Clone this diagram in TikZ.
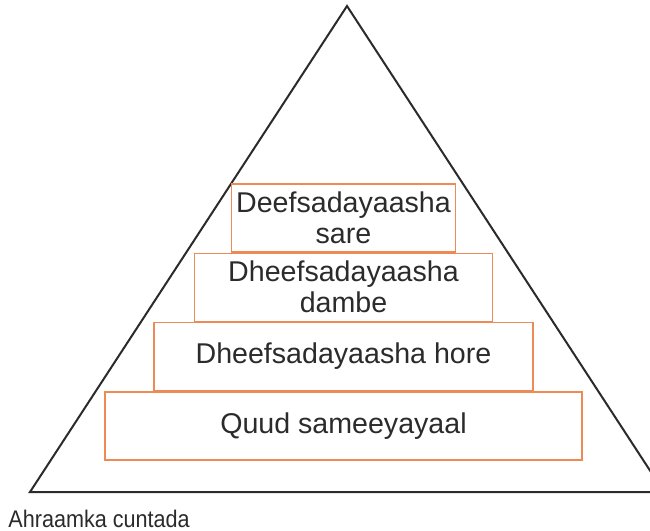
\documentclass[tikz,border=0pt]{standalone}
\usepackage{fontspec}
\setmainfont{Liberation Sans}
\newfontfamily\narrowfont[FakeStretch=0.9]{Liberation Sans}
\usepackage{xcolor}
\usepackage{tikz}
\usetikzlibrary{positioning}
\definecolor{tierline}{HTML}{EE8A55}
\definecolor{ink}{HTML}{2B2B2B}
\tikzset{
  tier/.style={rectangle,draw=tierline,line width=0.7pt,fill=white,
    align=center,inner sep=2pt,font=\fontsize{14.3}{15.5}\selectfont,
    text=ink,minimum height=34pt},
  pyr/.style={draw=ink,line width=1pt,line join=miter},
}

\begin{document}
\begin{tikzpicture}[x=0.5pt,y=-0.5pt,node distance=0pt]
  \clip (0,0) rectangle (650,531);
  \fill[white] (0,0) rectangle (650,531);
  % pyramid outline
  \coordinate (top) at (347,6);
  \coordinate (bl) at (30,492);
  \coordinate (br) at (664,492);
  \draw[pyr] (top) -- (bl) -- (br) -- cycle;
  % tiers, bottom up
  \node[tier,minimum width=238.5pt] (quud) at (343.5,426) {Quud sameeyayaal};
  \node[tier,minimum width=189.5pt,above=of quud] (hore) {Dheefsadayaasha hore};
  \node[tier,minimum width=149pt,above=of hore] (dambe) {Dheefsadayaasha\\dambe};
  \node[tier,minimum width=112pt,above=of dambe] (sare) {Deefsadayaasha\\sare};
  \node[anchor=base west,inner sep=0pt,text=ink,font=\narrowfont\fontsize{12}{14}\selectfont] (cap) at (8,527) {Ahraamka cuntada};
\end{tikzpicture}
\end{document}
